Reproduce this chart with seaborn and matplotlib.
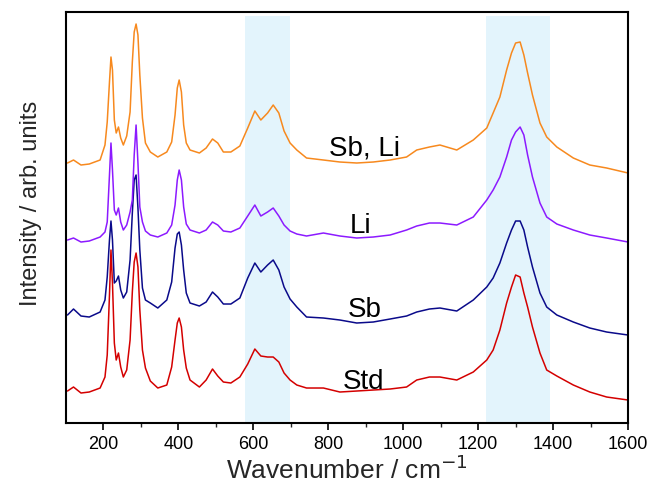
import numpy as np
import pandas as pd
import matplotlib
matplotlib.use('Agg')
import matplotlib.pyplot as plt
import seaborn as sns

# wavenumber grid (cm-1) shared by all four spectra
wavenumber = [104, 120, 140, 162, 191, 204, 210, 216, 220, 224, 229, 234, 240, 246,
              253, 262, 271, 277, 282, 287, 292, 297, 304, 312, 325, 345, 369, 382,
              391, 397, 402, 408, 414, 421, 431, 456, 474, 491, 505, 520, 540, 564,
              585, 604, 620, 638, 653, 668, 682, 698, 716, 742, 787, 831, 876, 920,
              965, 1009, 1036, 1070, 1098, 1143, 1187, 1223, 1240, 1258, 1276, 1289,
              1300, 1312, 1322, 1332, 1345, 1365, 1383, 1410, 1454, 1498, 1543, 1600]

# stacked intensities (arb. units, already offset)
std = [32, 36, 30, 31, 35, 46, 68, 128, 173, 140, 80, 63, 70, 56,
       46, 53, 83, 131, 161, 170, 156, 113, 73, 55, 42, 35, 38, 56,
       83, 100, 105, 96, 73, 55, 43, 36, 43, 54, 47, 41, 40, 46,
       59, 74, 67, 66, 66, 61, 50, 43, 38, 35, 35, 31, 32, 33,
       34, 36, 43, 46, 46, 43, 51, 63, 73, 93, 120, 136,
       148, 146, 130, 116, 96, 70, 53, 47, 38, 31, 26, 23]
sb = [108, 114, 107, 106, 111, 123, 146, 183, 202, 183, 140, 142, 147, 133,
      125, 131, 163, 210, 243, 248, 215, 173, 135, 123, 120, 115, 123, 141,
      175, 189, 191, 178, 153, 130, 120, 117, 121, 131, 126, 119, 119, 125,
      145, 160, 151, 158, 163, 153, 136, 124, 116, 106, 105, 103, 100, 101,
      104, 107, 111, 114, 115, 112, 123, 136, 145, 160, 180, 193,
      202, 202, 193, 176, 156, 130, 116, 108, 101, 95, 91, 88]
li = [183, 185, 181, 182, 186, 191, 201, 248, 280, 253, 213, 208, 215, 201,
      193, 198, 211, 223, 268, 298, 260, 216, 201, 192, 188, 186, 190, 198,
      218, 243, 253, 243, 216, 199, 193, 190, 193, 201, 198, 192, 191, 195,
      207, 218, 207, 211, 215, 207, 198, 192, 189, 187, 190, 187, 185, 186,
      188, 193, 197, 200, 200, 198, 206, 223, 233, 246, 266, 283,
      291, 296, 288, 268, 246, 220, 206, 199, 193, 188, 185, 181]
sb_li = [260, 263, 258, 259, 263, 278, 301, 341, 366, 353, 303, 290, 296, 285,
         278, 287, 311, 361, 391, 399, 388, 348, 305, 280, 271, 266, 271, 281,
         308, 335, 343, 331, 298, 280, 273, 270, 275, 284, 280, 271, 271, 277,
         295, 312, 303, 310, 318, 310, 292, 280, 273, 265, 263, 261, 260, 261,
         263, 266, 273, 276, 278, 273, 283, 295, 310, 326, 353, 370,
         380, 381, 368, 350, 328, 300, 286, 276, 265, 258, 255, 250]

samples = ['Std', 'Sb', 'Li', 'Sb, Li']
colors = ['#d40000', '#0a0a8a', '#8c1aff', '#f7891e']
label_x = [893, 898, 887, 897]
label_y = [34, 106, 190, 268]

shade_ranges = [(578, 698), (1220, 1392)]

df = pd.concat([pd.DataFrame({'wavenumber': wavenumber, 'intensity': vals, 'sample': name})
                for name, vals in zip(samples, [std, sb, li, sb_li])])

sns.set_theme(style='white')
plt.rcParams['font.family'] = ['Liberation Sans', 'DejaVu Sans']

fig = plt.figure(figsize=(6.51, 4.86), dpi=100)
ax = fig.add_axes([0.1014, 0.1296, 0.8633, 0.8457])

# highlighted bands
for lo, hi in shade_ranges:
    ax.axvspan(lo, hi, ymin=0, ymax=0.99, color='#e3f4fc', lw=0, zorder=0)

sns.lineplot(data=df, x='wavenumber', y='intensity', hue='sample', hue_order=samples,
             palette=colors, estimator=None, sort=False, lw=1.1, legend=False, ax=ax)

for name, x, y in zip(samples, label_x, label_y):
    ax.text(x, y, name, ha='center', va='baseline', fontsize=20, color='black')

ax.set_xlim(100, 1600)
ax.set_ylim(0, 411)
ax.set_xticks(range(200, 1601, 200))
ax.set_xticks(range(300, 1600, 200), minor=True)
ax.set_yticks([])
ax.tick_params(axis='x', which='major', direction='out', length=5, width=1.2,
               labelsize=13, colors='black', bottom=True, pad=4)
ax.tick_params(axis='x', which='minor', direction='out', length=3, width=1.0,
               bottom=True)
for s in ax.spines.values():
    s.set_color('black')
    s.set_linewidth(1.5)

ax.set_xlabel('Wavenumber / cm$^{-1}$', fontsize=19, labelpad=2)
ax.set_ylabel('Intensity / arb. units', fontsize=17)
ax.yaxis.set_label_coords(-0.042, 0.535)

fig.savefig('out.png', dpi=100)
